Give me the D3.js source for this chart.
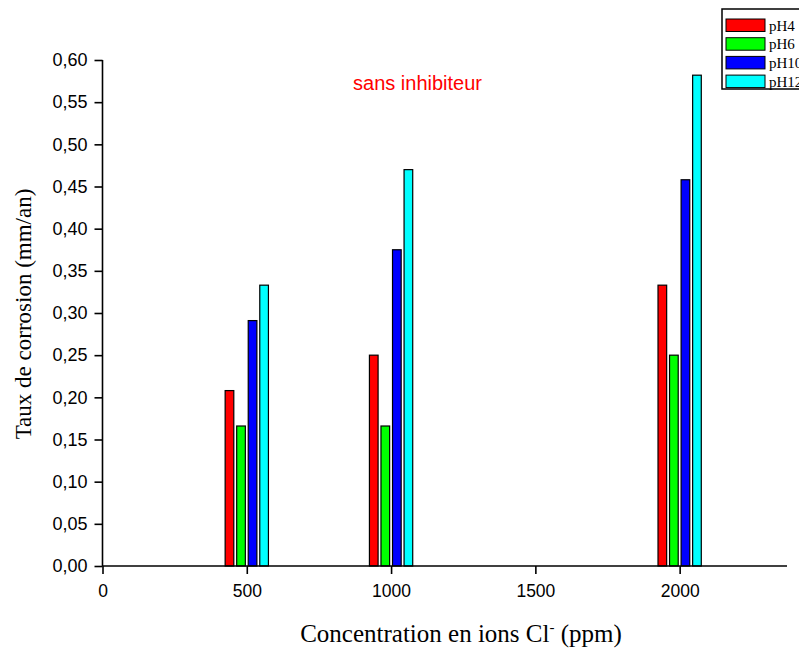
<!DOCTYPE html>
<html>
<head>
<meta charset="utf-8">
<script src="https://cdn.jsdelivr.net/npm/d3@7.9.0/dist/d3.min.js"></script>
<style>
  html, body { margin: 0; padding: 0; background: #fff; }
  svg { display: block; }
</style>
</head>
<body>
<svg id="chart" width="799" height="648"></svg>
<script>
const concentrations = [500, 1000, 2000];
const seriesNames = ['pH4', 'pH6', 'pH10', 'pH12'];
const seriesColors = ['#ff0000', '#00ff00', '#0000ff', '#00ffff'];
const pH4 = [0.208, 0.25, 0.333];
const pH6 = [0.166, 0.166, 0.25];
const pH10 = [0.291, 0.375, 0.458];
const pH12 = [0.333, 0.47, 0.582];
const xTicks = [0, 500, 1000, 1500, 2000];
const yTicks = [0, 0.05, 0.1, 0.15, 0.2, 0.25, 0.3, 0.35, 0.4, 0.45, 0.5, 0.55, 0.6];

const seriesValues = [pH4, pH6, pH10, pH12];
const barOffsets = [-60, -20, 20, 60]; // in ppm, around each concentration
const barWidth = 30;

const svg = d3.select('#chart');

const x = d3.scaleLinear().domain([0, 2372]).range([102.5, 787]);
const y = d3.scaleLinear().domain([0, 0.6]).range([566, 60]);

const fmt = (d) => d3.format('.2f')(d).replace('.', ',');
const sansFont = '"Liberation Sans", Arial, sans-serif';
const serifFont = '"Liberation Serif", "Times New Roman", serif';

// bars
const bars = [];
seriesValues.forEach((vals, s) => {
  vals.forEach((v, i) => bars.push({ s, c: concentrations[i], v }));
});

svg.append('g')
  .selectAll('rect')
  .data(bars)
  .join('rect')
  .attr('x', (d) => x(d.c + barOffsets[d.s] - barWidth / 2))
  .attr('width', (d) => x(barWidth) - x(0))
  .attr('y', (d) => y(d.v))
  .attr('height', (d) => y(0) - y(d.v))
  .attr('fill', (d) => seriesColors[d.s])
  .attr('stroke', '#000')
  .attr('stroke-width', 1.2);

// x axis
const xAxis = svg.append('g').attr('transform', `translate(0,${y(0)})`);
xAxis.call(d3.axisBottom(x).tickValues(d3.range(250, 2372, 500)).tickSize(4).tickFormat(''))
  .call((g) => g.select('.domain').remove());
xAxis.call(d3.axisBottom(x).tickValues(xTicks).tickSize(8).tickPadding(11).tickFormat(d3.format('d')))
  .call((g) => g.select('.domain').attr('d', `M${x(0)},0H${x(2372)}`));
xAxis.selectAll('line, path').attr('stroke', '#000').attr('stroke-width', 1.6);
xAxis.selectAll('text').attr('font-family', sansFont).attr('font-size', 17.5).attr('fill', '#000');

// y axis
const yAxis = svg.append('g').attr('transform', `translate(${x(0)},0)`);
yAxis.call(d3.axisLeft(y).tickValues(d3.range(0.025, 0.6, 0.05)).tickSize(4).tickFormat(''))
  .call((g) => g.select('.domain').remove());
yAxis.call(d3.axisLeft(y).tickValues(yTicks).tickSize(8).tickPadding(7).tickFormat(fmt))
  .call((g) => g.select('.domain').attr('d', `M0,${y(0)}V${y(0.6)}`));
yAxis.selectAll('line, path').attr('stroke', '#000').attr('stroke-width', 1.6);
yAxis.selectAll('text').attr('font-family', sansFont).attr('font-size', 18).attr('fill', '#000');

// title inside plot
svg.append('text')
  .attr('x', 417.5).attr('y', 90)
  .attr('text-anchor', 'middle')
  .attr('font-family', sansFont).attr('font-size', 20)
  .attr('fill', '#ff0000')
  .text('sans inhibiteur');

// axis labels
const xLabel = svg.append('text')
  .attr('x', 461).attr('y', 642)
  .attr('text-anchor', 'middle')
  .attr('font-family', serifFont).attr('font-size', 25)
  .attr('fill', '#000');
xLabel.append('tspan').text('Concentration en ions Cl');
xLabel.append('tspan').attr('dy', -10).attr('font-size', 15).text('-');
xLabel.append('tspan').attr('dy', 10).text(' (ppm)');

svg.append('text')
  .attr('transform', 'translate(31,314) rotate(-90)')
  .attr('text-anchor', 'middle')
  .attr('font-family', serifFont).attr('font-size', 23)
  .attr('fill', '#000')
  .text('Taux de corrosion (mm/an)');

// legend (cut by the right edge, as in the source figure)
const legend = svg.append('g');
legend.append('rect')
  .attr('x', 722).attr('y', 9).attr('width', 100).attr('height', 80)
  .attr('fill', '#fff').attr('stroke', '#000').attr('stroke-width', 1.5);
const items = legend.selectAll('g.item')
  .data(seriesNames)
  .join('g')
  .attr('class', 'item')
  .attr('transform', (d, i) => `translate(726,${19 + i * 18.7})`);
items.append('rect')
  .attr('width', 39).attr('height', 12.5)
  .attr('fill', (d, i) => seriesColors[i])
  .attr('stroke', '#000').attr('stroke-width', 1);
items.append('text')
  .attr('x', 43).attr('y', 11.5)
  .attr('font-family', serifFont).attr('font-size', 15)
  .attr('fill', '#000')
  .text((d) => d);
</script>
</body>
</html>
